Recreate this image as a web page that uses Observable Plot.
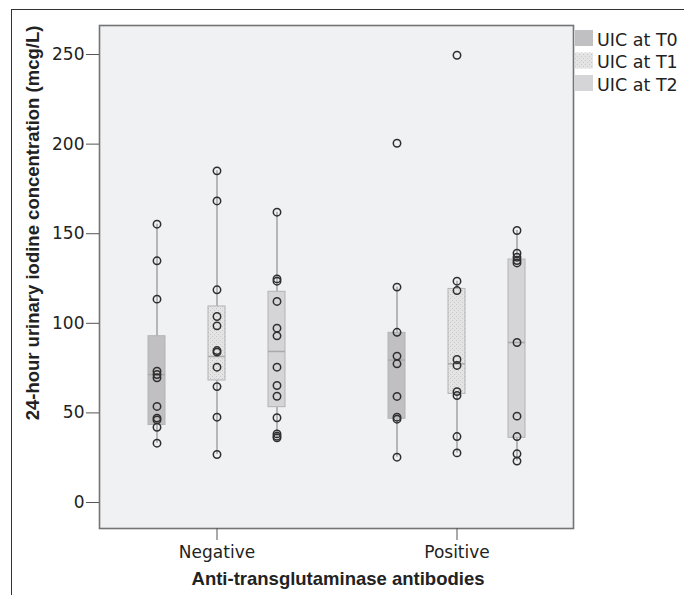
<!DOCTYPE html>
<html><head><meta charset="utf-8">
<script src="https://cdn.jsdelivr.net/npm/d3@7"></script>
<script src="https://cdn.jsdelivr.net/npm/@observablehq/plot@0.6"></script>
<style>
body{margin:0;background:#fff;}
#wrap{position:relative;width:684px;height:595px;overflow:hidden;background:#fff;}
#border{position:absolute;left:11px;top:9px;width:760px;height:760px;border-left:1.5px solid #333;border-top:1.5px solid #333;pointer-events:none;}
#wrap svg{position:absolute;left:0;top:0;}
</style></head><body><div id="wrap"><div id="border"></div></div>
<script>
// ---- data ----
const groups = ["Negative", "Positive"];
const times = ["T0", "T1", "T2"];
const seriesLabels = ["UIC at T0", "UIC at T1", "UIC at T2"];
const yTicks = [0, 50, 100, 150, 200, 250];
const xTitle = "Anti-transglutaminase antibodies";
const yTitle = "24-hour urinary iodine concentration (mcg/L)";

// individual observations (mcg/L)
const negT0 = [155.3, 134.9, 113.5, 73.3, 71.4, 69.6, 53.6, 47.1, 46.1, 42.0, 33.1];
const negT1 = [185.1, 168.3, 118.7, 103.8, 98.6, 84.8, 83.9, 75.5, 64.7, 47.6, 26.8];
const negT2 = [162.0, 124.8, 123.5, 112.2, 97.3, 93.0, 75.5, 65.3, 59.3, 47.3, 38.3, 37.0, 36.1];
const posT0 = [200.5, 120.2, 95.0, 81.7, 77.4, 59.2, 47.6, 46.5, 25.3];
const posT1 = [249.6, 123.5, 118.3, 79.8, 76.5, 61.9, 59.7, 36.8, 27.7];
const posT2 = [151.8, 139.1, 136.9, 135.0, 133.7, 89.3, 48.2, 36.8, 27.2, 23.1];

// box statistics, order: Neg T0, Neg T1, Neg T2, Pos T0, Pos T1, Pos T2
const q1 = [43.3, 68.1, 53.2, 46.7, 60.6, 36.1];
const medians = [71.4, 81.5, 84.3, 79.5, 77.4, 89.3];
const q3 = [92.8, 109.4, 117.6, 94.7, 119.2, 135.6];
const whiskerLow = [33.1, 26.8, 36.1, 25.3, 27.7, 23.1];
const whiskerHigh = [155.3, 185.1, 162.0, 120.2, 123.5, 151.8];

// ---- build tables ----
const keys = groups.flatMap(g => times.map(t => g + " " + t));
const xDomain = [...keys.slice(0, 3), " ", ...keys.slice(3)];
const seriesValues = [negT0, negT1, negT2, posT0, posT1, posT2];
const points = seriesValues.flatMap((arr, i) => arr.map(v => ({key: keys[i], value: v})));
const boxes = keys.map((k, i) => ({
  key: k, time: times[i % 3], q1: q1[i], med: medians[i], q3: q3[i],
  lo: whiskerLow[i], hi: whiskerHigh[i]
}));

const fills = ["#c0c0c2", "url(#uicDots)", "#d5d5d7"];

function defsMark() {
  const defs = d3.create("svg:defs");
  const p = defs.append("pattern").attr("id", "uicDots").attr("width", 4).attr("height", 4)
    .attr("patternUnits", "userSpaceOnUse");
  p.append("rect").attr("width", 4).attr("height", 4).attr("fill", "#e4e4e5");
  p.append("rect").attr("x", 0).attr("y", 0).attr("width", 1).attr("height", 1).attr("fill", "#c8c8ca");
  p.append("rect").attr("x", 2).attr("y", 2).attr("width", 1).attr("height", 1).attr("fill", "#c8c8ca");
  return defs.node();
}

const chart = Plot.plot({
  width: 684,
  height: 595,
  marginLeft: 99,
  marginRight: 111,
  marginTop: 25,
  marginBottom: 67,
  style: {fontFamily: "'DejaVu Sans', sans-serif", fontSize: "17px", color: "#222", background: "transparent", overflow: "visible"},
  x: {type: "band", domain: xDomain, paddingInner: 0.72, paddingOuter: 0.76, axis: null},
  y: {domain: [-14.5, 266.2], axis: null},
  color: {type: "ordinal", domain: times, range: fills},
  marks: [
    defsMark,
    Plot.frame({fill: "#f0f1f3", stroke: "#747474", strokeWidth: 1.6}),
    Plot.ruleX(boxes, {x: "key", y1: "lo", y2: "hi", stroke: "#b6b6b8", strokeWidth: 2}),
    Plot.barY(boxes, {x: "key", y1: "q1", y2: "q3", fill: "time", stroke: "#b3b3b5", strokeWidth: 1}),
    Plot.tickY(boxes, {x: "key", y: "med", stroke: "#a9a9ab", strokeWidth: 1.5}),
    Plot.dot(points, {x: "key", y: "value", r: 3.7, stroke: "#2e2e2e", strokeWidth: 1.5, fill: "none"}),
    Plot.axisY({ticks: yTicks, tickSize: 13, tickPadding: 2, label: null, stroke: "#555", fill: "#222"}),
    Plot.axisX({ticks: [keys[1], keys[4]], tickFormat: d => d.split(" ")[0], tickSize: 12, tickPadding: 5, label: null, stroke: "#555", fill: "#222"})
  ]
});

document.getElementById("wrap").appendChild(chart);
const svg = d3.select(chart);

// axis titles
svg.append("text").attr("transform", "translate(39,223) rotate(-90)")
  .attr("text-anchor", "middle").attr("font-family", "'Liberation Sans', Arial, sans-serif")
  .attr("font-weight", "bold").attr("font-size", 18.5).attr("fill", "#222").text(yTitle);
svg.append("text").attr("x", 338).attr("y", 585)
  .attr("text-anchor", "middle").attr("font-family", "'Liberation Sans', Arial, sans-serif")
  .attr("font-weight", "bold").attr("font-size", 18.5).attr("fill", "#222").text(xTitle);

// legend
const lg = svg.append("g").attr("transform", "translate(575,30)");
seriesLabels.forEach((lab, i) => {
  lg.append("rect").attr("x", 0).attr("y", i * 22.5).attr("width", 18).attr("height", 16).attr("fill", fills[i]);
  lg.append("text").attr("x", 22).attr("y", i * 22.5 + 15.5).attr("text-anchor", "start")
    .attr("font-family", "'DejaVu Sans', sans-serif").attr("font-size", 17.5).attr("fill", "#222").text(lab);
});
</script></body></html>
